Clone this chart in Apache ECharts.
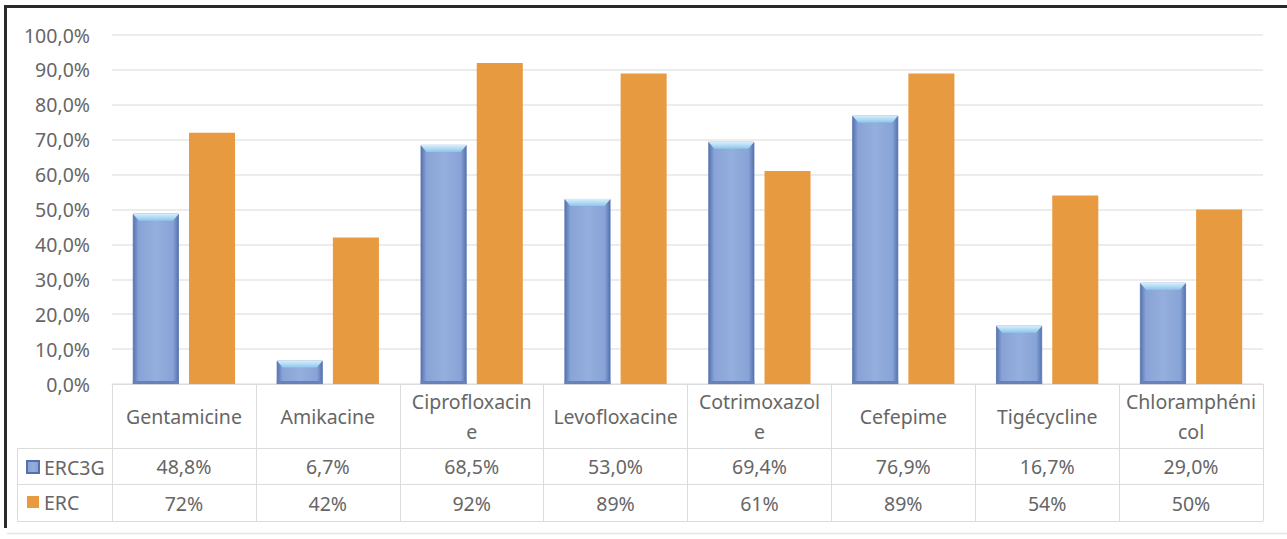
<!DOCTYPE html>
<html lang="fr">
<head>
<meta charset="UTF-8">
<title>ERC3G / ERC</title>
<script src="https://cdn.jsdelivr.net/npm/echarts@6/dist/echarts.min.js"></script>
<style>
  html, body { margin: 0; padding: 0; background: #fff; }
  #main { width: 1287px; height: 539px; }
</style>
</head>
<body>
<div id="main"></div>
<script type="text/javascript">
// antibiotiques
var categories = ['Gentamicine', 'Amikacine', 'Ciprofloxacin\ne', 'Levofloxacine', 'Cotrimoxazol\ne', 'Cefepime', 'Tigécycline', 'Chloramphéni\ncol'];
var erc3g = [48.8, 6.7, 68.5, 53.0, 69.4, 76.9, 16.7, 29.0];
var erc = [72, 42, 92, 89, 61, 89, 54, 50];
var seriesNames = ['ERC3G', 'ERC'];

var txt = '#666666';
var line = '#dcdcdc';
var font = 'Noto Sans';
var fs = 19.5;

function pct1(v) { return v.toFixed(1).replace('.', ',') + '%'; }
function pct0(v) { return v.toFixed(0) + '%'; }

var blueFill = new echarts.graphic.LinearGradient(0, 0, 1, 0, [
    { offset: 0, color: '#5673b2' },
    { offset: 0.12, color: '#88a3d6' },
    { offset: 0.5, color: '#94aedd' },
    { offset: 0.88, color: '#88a3d6' },
    { offset: 1, color: '#5673b2' }
]);

var myChart = echarts.init(document.getElementById('main'), null, { renderer: 'svg' });

var BAR_W = 0.32, BAR_GAP = 0.22;

myChart.setOption({
    backgroundColor: '#fff',
    animation: false,
    textStyle: { fontFamily: font },
    grid: {
        left: 112, right: 24, top: 35, bottom: 155,
        outerBoundsMode: 'none'
    },
    legend: {
        data: seriesNames,
        orient: 'vertical',
        left: 26, top: 457,
        icon: 'rect',
        itemWidth: 12, itemHeight: 12,
        itemGap: 15,
        padding: 0,
        selectedMode: false,
        textStyle: { color: txt, fontSize: fs, fontFamily: font }
    },
    xAxis: [
        {   // en-tête du tableau
            type: 'category', data: categories,
            axisLine: { show: true, lineStyle: { color: line } },
            axisTick: { show: true, length: 64, interval: 0, lineStyle: { color: line } },
            axisLabel: {
                interval: 0, margin: 32, verticalAlign: 'middle',
                color: txt, fontSize: fs, lineHeight: 30, fontFamily: font
            }
        },
        {   // ligne ERC3G
            type: 'category', data: erc3g.map(pct1), position: 'bottom', offset: 64,
            axisLine: { show: true, lineStyle: { color: line } },
            axisTick: { show: true, length: 36, interval: 0, lineStyle: { color: line } },
            axisLabel: { interval: 0, margin: 18, verticalAlign: 'middle', color: txt, fontSize: fs, fontFamily: font }
        },
        {   // ligne ERC
            type: 'category', data: erc.map(pct0), position: 'bottom', offset: 100,
            axisLine: { show: true, lineStyle: { color: line } },
            axisTick: { show: true, length: 37, interval: 0, lineStyle: { color: line } },
            axisLabel: { interval: 0, margin: 19, verticalAlign: 'middle', color: txt, fontSize: fs, fontFamily: font }
        },
        {   // bas du tableau
            type: 'category', data: categories, position: 'bottom', offset: 137,
            axisLine: { show: true, lineStyle: { color: line } },
            axisTick: { show: false },
            axisLabel: { show: false }
        }
    ],
    yAxis: {
        type: 'value', min: 0, max: 100, interval: 10,
        axisLine: { show: false },
        axisTick: { show: false },
        axisLabel: { formatter: pct1, color: txt, fontSize: fs, margin: 22, fontFamily: font },
        splitLine: { lineStyle: { color: '#e6e6e6', width: 1.5 } }
    },
    series: [
        {
            name: 'ERC3G', type: 'bar', data: erc3g,
            barWidth: (BAR_W * 100) + '%', barGap: (BAR_GAP * 100) + '%',
            itemStyle: { color: blueFill, borderColor: '#5571ad', borderWidth: 0.8 }
        },
        {
            name: 'ERC', type: 'bar', data: erc,
            barWidth: (BAR_W * 100) + '%', barGap: (BAR_GAP * 100) + '%',
            itemStyle: { color: '#e89a40' }
        },
        {   // biseau clair en haut des barres bleues
            type: 'custom', z: 3, silent: true,
            data: erc3g.map(function (v, i) { return [i, v]; }),
            renderItem: function (params, api) {
                var c = api.coord([api.value(0), api.value(1)]);
                var catW = api.size([1, 0])[0];
                var bw = catW * BAR_W, gap = bw * BAR_GAP;
                var cx = c[0] - (bw + gap) / 2;
                var x0 = cx - bw / 2, x1 = cx + bw / 2, y = c[1];
                return {
                    type: 'group',
                    children: [
                        {
                            type: 'polygon',
                            shape: { points: [[x0, y], [x1, y], [x1 - 6, y + 7], [x0 + 6, y + 7]] },
                            style: {
                                fill: new echarts.graphic.LinearGradient(0, 0, 0, 1, [
                                    { offset: 0, color: '#d6efff' },
                                    { offset: 1, color: '#8ec6ea' }
                                ])
                            }
                        },
                        {
                            type: 'rect',
                            shape: { x: x0, y: api.coord([0, 0])[1] - 3, width: bw, height: 3 },
                            style: { fill: '#6781bb' }
                        }
                    ]
                };
            }
        }
    ],
    graphic: [
        // cadre
        { type: 'line', shape: { x1: 5.5, y1: 6.5, x2: 1287, y2: 6.5 }, style: { stroke: '#2a2a2a', lineWidth: 3 } },
        { type: 'line', shape: { x1: 5.5, y1: 5, x2: 5.5, y2: 528 }, style: { stroke: '#2a2a2a', lineWidth: 3 } },
        { type: 'line', shape: { x1: 7, y1: 533.5, x2: 1287, y2: 533.5 }, style: { stroke: '#e6e6e6', lineWidth: 1.5 } },
        // colonne de légende du tableau
        { type: 'line', shape: { x1: 17.5, y1: 448.5, x2: 112, y2: 448.5 }, style: { stroke: line, lineWidth: 1 } },
        { type: 'line', shape: { x1: 17.5, y1: 484.5, x2: 112, y2: 484.5 }, style: { stroke: line, lineWidth: 1 } },
        { type: 'line', shape: { x1: 17.5, y1: 521.5, x2: 112, y2: 521.5 }, style: { stroke: line, lineWidth: 1 } },
        { type: 'line', shape: { x1: 17.5, y1: 448.5, x2: 17.5, y2: 521.5 }, style: { stroke: line, lineWidth: 1 } }
    ]
});
</script>
</body>
</html>
